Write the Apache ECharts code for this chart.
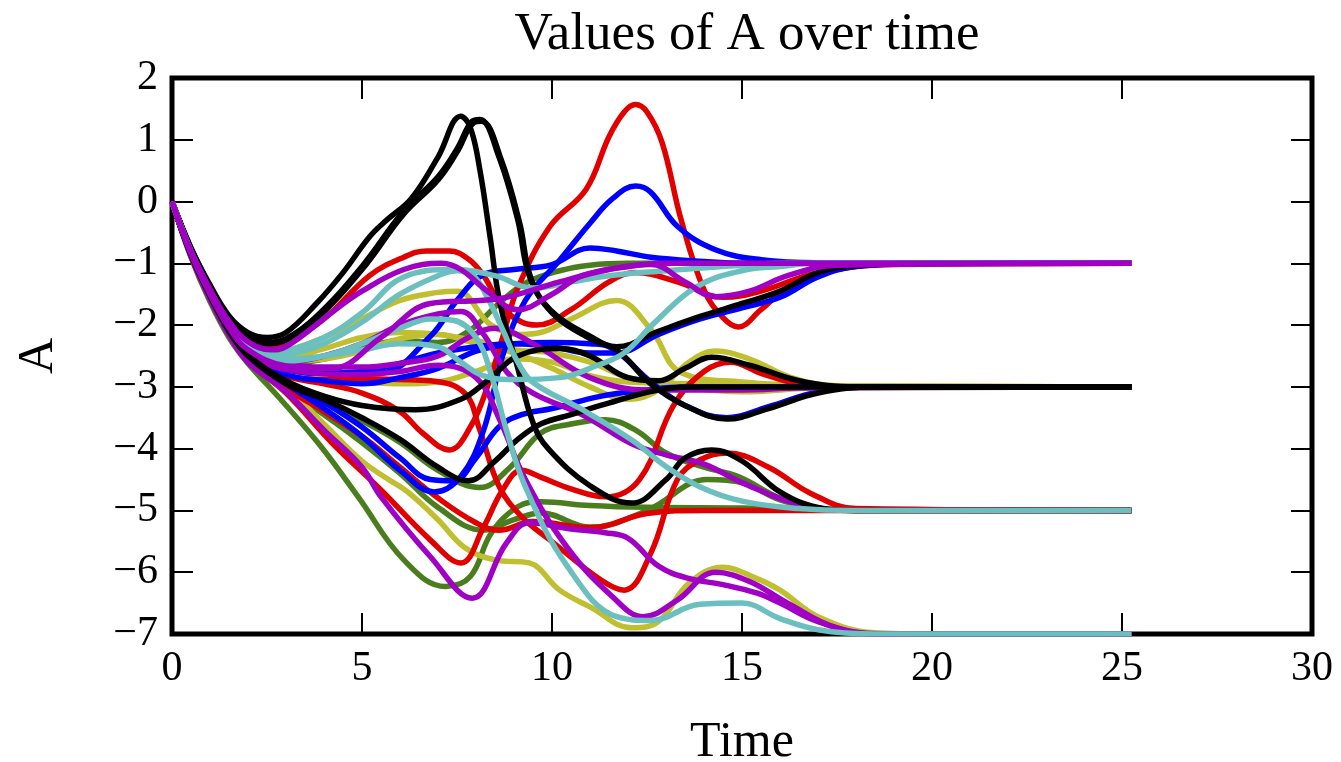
<!DOCTYPE html>
<html>
<head>
<meta charset="utf-8">
<script src="https://cdn.jsdelivr.net/npm/echarts@6/dist/echarts.min.js"></script>
<style>
  html, body { margin: 0; padding: 0; background: #fff; }
  #echart { width: 1341px; height: 762px; }
</style>
</head>
<body>
<div id="echart"></div>
<script>
// time / value pairs, one array per curve
var xTicks = [0, 5, 10, 15, 20, 25, 30];
var yTicks = [-7, -6, -5, -4, -3, -2, -1, 0, 1, 2];

var green5a = [[0,0],[0.5,-0.9],[1,-1.62],[1.5,-2.2],[2,-2.62],[2.8,-3.16],[3.9,-3.95],[4.9,-4.78],[6.1,-5.8],[7.2,-6.23],[7.85,-6.07],[8.4,-5.37],[9.1,-4.94],[9.7,-4.86],[11,-4.92],[12.5,-4.95],[15,-4.96],[18,-4.99],[25.25,-5]];
var green5b = [[0,0],[0.5,-0.87],[1,-1.56],[1.5,-2.14],[2,-2.57],[3,-3.05],[4,-3.45],[5,-3.9],[6,-4.4],[7,-4.95],[8.2,-5.32],[9,-5.15],[9.7,-5.04],[11,-5.27],[12.5,-5.0],[14.1,-4.5],[15,-4.55],[16,-4.83],[17,-4.97],[18,-5],[25.25,-5]];
var green5c = [[0,0],[0.5,-0.86],[1,-1.53],[1.5,-2.1],[2,-2.52],[3,-2.95],[4,-3.25],[5,-3.55],[6,-3.9],[7,-4.35],[8.1,-4.63],[8.9,-4.3],[9.7,-3.75],[10.5,-3.6],[11.4,-3.53],[12.2,-3.7],[13,-4.07],[14,-4.3],[14.9,-4.45],[16,-4.8],[17,-4.97],[18,-5],[25.25,-5]];
var greenA = [[0,0],[0.5,-0.83],[1,-1.48],[1.5,-2.02],[2,-2.38],[3,-2.62],[4,-2.55],[5,-2.38],[6,-2.25],[7,-2.28],[7.8,-2.1],[8.6,-1.65],[9.3,-1.32],[10.2,-1.12],[11,-1.03],[12,-1.0],[25.25,-1]];

var yellow7 = [[0,0],[0.5,-0.86],[1,-1.54],[1.5,-2.12],[2,-2.55],[3,-3.0],[4,-3.6],[5,-4.2],[5.7,-4.5],[6.2,-4.7],[7,-5.15],[7.7,-5.6],[8.5,-5.8],[9.4,-5.85],[10.2,-6.29],[11,-6.56],[12.1,-6.9],[12.8,-6.8],[13.6,-6.18],[14.5,-5.92],[15.3,-6.08],[16,-6.29],[17,-6.72],[18.5,-6.98],[20,-7],[25.25,-7]];
var yellowHump = [[0,0],[0.5,-0.82],[1,-1.46],[1.5,-1.98],[2,-2.3],[2.6,-2.45],[3,-2.42],[4,-2.2],[5,-1.9],[6,-1.6],[7,-1.47],[7.5,-1.45],[8.4,-2.0],[9.2,-2.15],[9.7,-2.12],[10.5,-1.9],[11.7,-1.6],[12.6,-2.07],[13.4,-2.77],[15,-2.92],[17,-2.98],[25.25,-3]];
var yellowHump2 = [[0,0],[0.5,-0.83],[1,-1.48],[1.5,-2.02],[2,-2.37],[3,-2.58],[4,-2.55],[5,-2.42],[6,-2.22],[7,-2.15],[8,-2.3],[9,-2.45],[10,-2.7],[11,-3.0],[12,-3.2],[12.8,-3.05],[13.6,-2.6],[14.3,-2.42],[15.2,-2.55],[16.3,-2.85],[17.5,-2.98],[25.25,-3]];
var yellowFlat = [[0,0],[0.5,-0.85],[1,-1.51],[1.5,-2.08],[2,-2.47],[3,-2.8],[4,-2.88],[5,-2.92],[6,-2.95],[7,-2.92],[8,-2.75],[9,-2.55],[10,-2.6],[11,-2.82],[12,-2.92],[14,-2.95],[16,-2.98],[25.25,-3]];
var yellowB = [[0,0],[0.5,-0.83],[1,-1.47],[1.5,-2.0],[2,-2.34],[3,-2.52],[4,-2.38],[5,-2.2],[6,-2.12],[7,-2.15],[8,-2.25],[9,-2.4],[10,-2.45],[11,-2.6],[12,-2.85],[13.4,-3.0],[15,-3.08],[17,-3.02],[25.25,-3]];

var redPeak = [[0,0],[0.5,-0.85],[1,-1.52],[1.5,-2.08],[2,-2.47],[3,-2.82],[4,-2.95],[5,-3.1],[6,-3.4],[6.6,-3.75],[7.3,-4.02],[7.85,-3.65],[8.3,-3.0],[8.7,-2.2],[9.1,-1.4],[9.95,-0.4],[10.9,0.2],[11.5,1.05],[11.9,1.45],[12.2,1.57],[12.5,1.45],[12.9,0.95],[13.4,-0.3],[14,-1.43],[14.5,-1.88],[14.9,-2.03],[15.5,-1.75],[16.3,-1.35],[17.5,-1.1],[19,-1.01],[25.25,-1]];
var redDip = [[0,0],[0.5,-0.78],[1,-1.4],[1.5,-1.92],[2,-2.22],[2.6,-2.35],[3,-2.3],[4,-1.9],[5.2,-1.2],[6.1,-0.9],[6.7,-0.8],[7.3,-0.8],[7.8,-0.93],[8.2,-1.2],[8.7,-1.72],[9.2,-1.95],[9.6,-2.0],[10.5,-1.75],[11.5,-1.3],[12.2,-1.15],[13.3,-1.3],[14.5,-1.55],[15.5,-1.45],[17,-1.15],[19,-1.02],[25.25,-1]];
var red5 = [[0,0],[0.5,-0.85],[1,-1.52],[1.5,-2.09],[2,-2.48],[3,-2.82],[4,-2.88],[5,-2.87],[6,-2.88],[6.8,-2.9],[7.7,-3.1],[8.1,-3.7],[8.6,-4.6],[9.2,-5.1],[9.95,-5.48],[11.3,-6.13],[11.9,-6.29],[12.6,-5.69],[13.3,-4.5],[13.9,-4.18],[14.6,-4.07],[15.7,-4.3],[16.8,-4.72],[18,-4.97],[25.25,-5]];
var redLow = [[0,0],[0.5,-0.88],[1,-1.57],[1.5,-2.15],[2,-2.58],[3,-3.1],[4.2,-3.9],[5.5,-4.67],[6.8,-5.48],[7.6,-5.85],[8.2,-5.27],[8.7,-4.67],[9.2,-4.35],[9.7,-4.46],[10.5,-4.65],[11.4,-4.78],[12.3,-4.5],[13.2,-3.3],[14,-2.75],[14.7,-2.6],[15.5,-2.78],[16.5,-2.95],[18,-3],[25.25,-3]];
var redMid5 = [[0,0],[0.5,-0.87],[1,-1.55],[1.5,-2.13],[2,-2.55],[3,-3.02],[4,-3.4],[5,-3.8],[6,-4.3],[7,-4.8],[8,-5.2],[8.6,-5.32],[9.5,-5.18],[11,-5.28],[12.5,-5.05],[14,-5.0],[25.25,-5]];

var bluePeak = [[0,0],[0.5,-0.86],[1,-1.54],[1.5,-2.11],[2,-2.52],[3,-2.95],[4,-3.35],[5,-3.8],[6,-4.35],[6.9,-4.7],[7.6,-4.45],[8.2,-3.7],[8.7,-2.5],[9.3,-1.6],[10.2,-0.95],[11,-0.35],[11.6,0.05],[12.2,0.25],[12.6,0.15],[13.3,-0.4],[14.3,-0.78],[15.5,-0.94],[17,-0.99],[25.25,-1]];
var blueMid = [[0,0],[0.5,-0.84],[1,-1.5],[1.5,-2.05],[2,-2.42],[3,-2.7],[4,-2.78],[5.5,-2.77],[6.8,-2.18],[7.5,-1.6],[8.2,-1.18],[9,-1.1],[10,-1.02],[11,-0.75],[11.7,-0.8],[12.6,-0.9],[14,-0.97],[15,-1],[25.25,-1]];
var blueC = [[0,0],[0.5,-0.84],[1,-1.5],[1.5,-2.05],[2,-2.42],[3,-2.72],[4,-2.78],[5,-2.75],[6,-2.62],[7,-2.45],[8,-2.35],[9,-2.3],[10,-2.35],[11,-2.45],[11.7,-2.45],[12.8,-2.15],[13.9,-1.9],[15,-1.72],[16,-1.55],[17,-1.22],[18,-1.05],[20,-1],[25.25,-1]];
var blueD = [[0,0],[0.5,-0.85],[1,-1.51],[1.5,-2.07],[2,-2.45],[3,-2.8],[4,-2.9],[5,-2.95],[6,-2.85],[7,-2.7],[8,-2.42],[9,-2.3],[10,-2.28],[11,-2.3],[11.5,-2.35],[12.6,-2.92],[13.5,-3.3],[14.6,-3.5],[15.7,-3.32],[17,-3.08],[18.5,-3],[25.25,-3]];
var blueE = [[0,0],[0.5,-0.86],[1,-1.54],[1.5,-2.11],[2,-2.52],[3,-2.92],[4,-3.25],[5,-3.65],[6,-4.15],[6.8,-4.5],[7.4,-4.52],[8,-4.15],[8.6,-3.65],[9.2,-3.45],[10,-3.35],[11.3,-3.15],[12.5,-3.05],[13.4,-3.0],[25.25,-3]];

var purpleC = [[0,0],[0.5,-0.84],[1,-1.49],[1.5,-2.03],[2,-2.4],[3,-2.62],[4,-2.68],[5,-2.68],[6,-2.62],[7,-2.5],[7.8,-2.2],[8.5,-2.05],[9.5,-2.3],[11,-2.85],[12.5,-3.05],[15,-3.05],[16.5,-3.02],[25.25,-3]];
var purple5 = [[0,0],[0.5,-0.83],[1,-1.48],[1.5,-2.02],[2,-2.38],[3,-2.6],[4,-2.5],[5,-2.3],[6,-2.0],[7,-1.82],[7.6,-1.78],[8.2,-2.15],[8.8,-2.75],[9.5,-3.1],[10.8,-3.45],[12.1,-3.92],[13,-4.1],[14,-4.25],[15,-4.55],[16.5,-4.9],[18,-5],[25.25,-5]];
var purple7a = [[0,0],[0.5,-0.88],[1,-1.58],[1.5,-2.16],[2,-2.6],[3,-3.08],[4,-3.7],[5,-4.3],[5.5,-4.78],[6.8,-5.75],[7.9,-6.42],[8.8,-5.53],[9.4,-5.2],[10.5,-5.3],[11.4,-5.36],[12,-5.45],[12.8,-5.9],[13.6,-6.1],[14.5,-6.2],[15.4,-6.34],[16,-6.5],[17,-6.8],[18.5,-7],[25.25,-7]];
var purple7b = [[0,0],[0.5,-0.85],[1,-1.51],[1.5,-2.07],[2,-2.45],[3,-2.72],[5,-2.8],[6,-2.75],[7,-2.65],[8,-2.85],[8.6,-3.5],[9.3,-4.5],[10.4,-5.6],[11.6,-6.4],[12.4,-6.72],[13.3,-6.45],[14.3,-6.0],[15.2,-6.15],[16.2,-6.5],[17.5,-6.9],[19,-7],[25.25,-7]];

var blackPeakA = [[0,0],[0.5,-0.75],[1,-1.35],[1.5,-1.85],[2,-2.12],[2.5,-2.2],[3,-2.12],[3.8,-1.65],[4.5,-1.15],[5.2,-0.57],[5.65,-0.3],[6.3,0.05],[7,0.72],[7.6,1.38],[7.85,1.2],[8.1,0.52],[8.37,-0.57],[8.63,-1.64],[9.1,-2.7],[9.5,-3.58],[9.9,-4.0],[11,-4.6],[12.1,-4.88],[13,-4.5],[13.5,-4.15],[14.2,-4.02],[15,-4.2],[16,-4.7],[17,-4.95],[18,-5],[25.25,-5]];
var blackB1 = [[0,0],[0.5,-0.76],[1,-1.37],[1.5,-1.88],[2,-2.18],[2.5,-2.28],[3,-2.22],[3.8,-1.86],[5,-1.05],[6.1,-0.15],[7,0.4],[7.5,0.85],[7.9,1.3],[8.1,1.33],[8.6,0.73],[9.1,-0.3],[9.4,-1.2],[9.95,-1.75],[11,-2.18],[11.7,-2.35],[12.8,-2.1],[13.9,-1.86],[15,-1.65],[16,-1.45],[17,-1.15],[18,-1.04],[20,-1],[25.25,-1]];
var blackB2 = [[0,0],[0.5,-0.76],[1,-1.38],[1.5,-1.89],[2,-2.2],[2.5,-2.3],[3,-2.24],[3.8,-1.9],[5,-1.1],[6.1,-0.2],[7,0.35],[7.5,0.8],[7.95,1.28],[8.15,1.3],[8.65,0.7],[9.15,-0.35],[9.45,-1.25],[10,-1.8],[11,-2.22],[11.7,-2.4],[12.6,-2.95],[13.5,-3.3],[14.6,-3.52],[15.7,-3.35],[17,-3.1],[18.5,-3],[25.25,-3]];
var blackMid = [[0,0],[0.5,-0.85],[1,-1.52],[1.5,-2.08],[2,-2.48],[3,-2.9],[4,-3.15],[5,-3.3],[6.4,-3.37],[7.6,-3.2],[8.3,-2.9],[9.1,-2.5],[10.2,-2.38],[11,-2.5],[12,-2.85],[12.8,-2.9],[13.5,-2.7],[14.2,-2.52],[15.2,-2.65],[16.5,-2.9],[18,-3],[25.25,-3]];
var blackLow = [[0,0],[0.5,-0.86],[1,-1.53],[1.5,-2.1],[2,-2.5],[3,-2.95],[4,-3.2],[5,-3.5],[6,-3.85],[7,-4.3],[7.8,-4.52],[8.5,-4.2],[9.1,-3.85],[9.7,-3.6],[10.5,-3.45],[11.4,-3.28],[12.8,-3.05],[14,-3.0],[25.25,-3]];

var cyanA = [[0,0],[0.5,-0.81],[1,-1.44],[1.5,-1.96],[2,-2.3],[2.6,-2.45],[3,-2.42],[4,-2.2],[5,-1.8],[6.1,-1.22],[7.4,-1.1],[8.5,-1.2],[9.5,-1.4],[10.5,-1.3],[11.5,-1.2],[13,-1.12],[14.5,-1.05],[16,-1.0],[25.25,-1]];
var cyanB = [[0,0],[0.5,-0.82],[1,-1.47],[1.5,-2.0],[2,-2.34],[3,-2.55],[4,-2.5],[5,-2.4],[6,-2.3],[7,-2.35],[7.6,-2.6],[8.2,-2.82],[9,-2.88],[10.2,-2.85],[11.2,-2.65],[11.9,-2.45],[12.7,-1.96],[13.8,-1.38],[15,-1.12],[16,-1.05],[17,-1.0],[25.25,-1]];
var cyan5 = [[0,0],[0.5,-0.81],[1,-1.45],[1.5,-1.98],[2,-2.32],[2.6,-2.5],[3,-2.48],[4,-2.3],[5,-1.95],[6,-1.5],[7,-1.2],[7.5,-1.12],[7.9,-1.18],[8.3,-1.55],[8.7,-2.07],[9.1,-2.6],[9.5,-2.93],[10.8,-3.37],[12.1,-3.86],[13,-4.29],[13.9,-4.62],[15,-4.85],[16.5,-4.97],[18,-5],[25.25,-5]];
var cyan7 = [[0,0],[0.5,-0.82],[1,-1.47],[1.5,-2.0],[2,-2.36],[3,-2.58],[4,-2.5],[5,-2.3],[6,-2.05],[6.8,-1.9],[7.4,-1.92],[8,-2.2],[8.4,-2.8],[8.8,-3.7],[9.3,-4.62],[10.4,-5.9],[11.7,-6.72],[12.6,-6.78],[13.9,-6.52],[15,-6.5],[16,-6.75],[17,-6.93],[18.5,-7],[25.25,-7]];

var purpleA = [[0,0],[0.5,-0.8],[1,-1.42],[1.5,-1.94],[2,-2.27],[2.6,-2.4],[3,-2.35],[4.3,-1.75],[5,-1.45],[6.1,-1.1],[7.1,-1.0],[7.6,-1.1],[8.3,-1.45],[9.1,-1.75],[10,-1.5],[10.8,-1.2],[12,-1.05],[13,-1.0],[25.25,-1]];
var purpleB = [[0,0],[0.5,-0.84],[1,-1.5],[1.5,-2.04],[2,-2.4],[3,-2.66],[4.2,-2.7],[5.5,-2.2],[6.8,-1.65],[8.1,-1.6],[8.8,-1.55],[10.2,-1.3],[11.5,-1.1],[12.6,-1.02],[13.5,-1.3],[14.3,-1.54],[15.2,-1.45],[16.2,-1.2],[17.5,-1.03],[25.25,-1]];

var GREEN = '#4a7d1e', YELLOW = '#bfbf30', RED = '#e00000', BLUE = '#0000ff',
    PURPLE = '#a000c4', BLACK = '#000000', CYAN = '#6bbfbf';

// draw order matters: later curves sit on top where they merge
var curves = [
    [green5a, GREEN], [green5b, GREEN], [green5c, GREEN], [greenA, GREEN],
    [yellow7, YELLOW], [yellowHump, YELLOW], [yellowHump2, YELLOW], [yellowFlat, YELLOW], [yellowB, YELLOW],
    [redPeak, RED], [redDip, RED], [red5, RED], [redLow, RED], [redMid5, RED],
    [bluePeak, BLUE], [blueMid, BLUE], [blueC, BLUE], [blueD, BLUE], [blueE, BLUE],
    [purpleC, PURPLE], [purple5, PURPLE], [purple7a, PURPLE], [purple7b, PURPLE],
    [blackPeakA, BLACK], [blackB1, BLACK], [blackB2, BLACK], [blackMid, BLACK], [blackLow, BLACK],
    [cyanA, CYAN], [cyanB, CYAN], [cyan5, CYAN], [cyan7, CYAN],
    [purpleA, PURPLE], [purpleB, PURPLE]
];

var FONT = 'Liberation Serif';
var minus = function (v) { return String(v).replace('-', '\u2212'); };

var myChart = echarts.init(document.getElementById('echart'));

var series = [];
for (var i = 0; i < curves.length; i++) {
    series.push({
        type: 'line',
        data: curves[i][0],
        xAxisIndex: 0,
        yAxisIndex: 0,
        smooth: 0.4,
        symbol: 'none',
        lineStyle: { color: curves[i][1], width: 5.5 },
        itemStyle: { color: curves[i][1] }
    });
}

function ticks() {
    return { show: true, inside: true, length: 21, lineStyle: { color: '#000', width: 2 } };
}

var option = {
    animation: false,
    backgroundColor: '#fff',
    title: {
        text: 'Values of A over time',
        left: 742,
        textAlign: 'center',
        top: 4,
        textStyle: { fontFamily: FONT, fontSize: 53, fontWeight: 'normal', color: '#000' }
    },
    grid: {
        left: 172, right: 29, top: 78, bottom: 128,
        outerBoundsMode: 'none',
        show: true, borderColor: '#000', borderWidth: 5, backgroundColor: 'transparent'
    },
    xAxis: [{
        type: 'value', min: 0, max: 30, interval: 5, position: 'bottom',
        name: 'Time', nameLocation: 'middle', nameGap: 84,
        nameTextStyle: { fontFamily: FONT, fontSize: 50, color: '#000' },
        axisLine: { show: false, onZero: false },
        axisTick: ticks(),
        splitLine: { show: false },
        axisLabel: { fontFamily: FONT, fontSize: 42, color: '#000', margin: 14, formatter: minus }
    }, {
        type: 'value', min: 0, max: 30, interval: 5, position: 'top',
        axisLine: { show: false, onZero: false }, axisTick: ticks(),
        splitLine: { show: false }, axisLabel: { show: false }
    }],
    yAxis: [{
        type: 'value', min: -7, max: 2, interval: 1, position: 'left',
        name: 'A', nameLocation: 'middle', nameGap: 108, nameRotate: 90,
        nameTextStyle: { fontFamily: FONT, fontSize: 50, color: '#000' },
        axisLine: { show: false, onZero: false },
        axisTick: ticks(),
        splitLine: { show: false },
        axisLabel: { fontFamily: FONT, fontSize: 42, color: '#000', margin: 14, formatter: minus }
    }, {
        type: 'value', min: -7, max: 2, interval: 1, position: 'right',
        axisLine: { show: false, onZero: false }, axisTick: ticks(),
        splitLine: { show: false }, axisLabel: { show: false }
    }],
    series: series
};

myChart.setOption(option);
window.onresize = myChart.resize;
</script>
</body>
</html>
